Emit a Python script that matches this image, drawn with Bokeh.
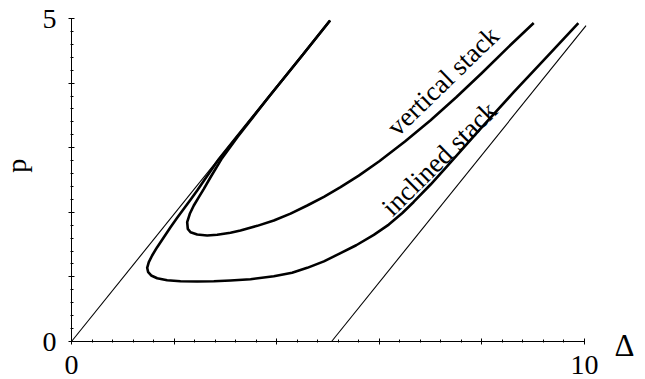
from bokeh.plotting import figure
from bokeh.models import Range1d, FixedTicker, Label
from bokeh.embed import file_html
from bokeh.resources import INLINE
import math

# ---- data ----
# thin reference lines
line1_x = [0.0, 5.04]
line1_y = [0.0, 4.97]
line2_x = [5.07, 10.03]
line2_y = [0.0, 4.89]

# "inclined stack" curve (outer)
incl_x = [5.04, 4.52, 3.86, 3.22, 2.87, 2.58, 2.45, 2.32, 2.19, 2.06, 1.93, 1.80, 1.67,
          1.572, 1.507, 1.475, 1.495, 1.553, 1.67, 1.865, 2.125, 2.45, 2.774, 3.099,
          3.489, 3.944, 4.30, 4.595, 4.92, 5.244, 5.55, 5.893, 6.185, 6.45, 6.67, 7.00,
          7.32, 7.97, 8.62, 9.27, 9.88]
incl_y = [4.97, 4.45, 3.80, 3.17, 2.82, 2.49, 2.337, 2.193, 2.054, 1.915, 1.77, 1.615,
          1.46, 1.331, 1.228, 1.141, 1.073, 1.022, 0.98, 0.949, 0.933, 0.929, 0.933,
          0.944, 0.964, 1.011, 1.065, 1.14, 1.24, 1.367, 1.49, 1.651, 1.81, 1.99, 2.16,
          2.43, 2.71, 3.29, 3.86, 4.41, 4.93]

# "vertical stack" curve (inner)
vert_x = [5.04, 4.52, 3.86, 3.24, 2.92, 2.71, 2.58, 2.482, 2.384, 2.306, 2.255, 2.267,
          2.32, 2.45, 2.645, 2.84, 3.099, 3.294, 3.62, 3.944, 4.27, 4.595, 4.92, 5.244,
          5.60, 6.00, 6.50, 7.00, 7.50, 8.00, 8.50, 9.01]
vert_y = [4.97, 4.45, 3.80, 3.17, 2.82, 2.543, 2.363, 2.234, 2.105, 1.977, 1.847, 1.744,
          1.692, 1.656, 1.641, 1.652, 1.683, 1.718, 1.79, 1.873, 1.98, 2.105, 2.24, 2.389,
          2.567, 2.791, 3.096, 3.426, 3.781, 4.156, 4.546, 4.93]

x_major = [0, 2, 4, 6, 8, 10]
x_minor = [0.4, 0.8, 1.2, 1.6, 2.4, 2.8, 3.2, 3.6, 4.4, 4.8, 5.2, 5.6, 6.4, 6.8,
           7.2, 7.6, 8.4, 8.8, 9.2, 9.6]
y_major = [0, 1, 2, 3, 4, 5]
y_minor = [0.2, 0.4, 0.6, 0.8, 1.2, 1.4, 1.6, 1.8, 2.2, 2.4, 2.6, 2.8, 3.2, 3.4,
           3.6, 3.8, 4.2, 4.4, 4.6, 4.8]
x_labels = {2: "", 4: "", 6: "", 8: "", 0: "0", 10: "10"}
y_labels = {1: "", 2: "", 3: "", 4: "", 0: "0", 5: "5"}

FONT = "Liberation Serif"

# frame fills the canvas; axes are pinned at 0 inside it
W, H = 645, 379
X0, X10 = 71.0, 584.0      # pixel columns of delta = 0 and 10
Y0, Y5 = 341.0, 18.0       # pixel rows of p = 0 and 5
sx = (X10 - X0) / 10.0
sy = (Y0 - Y5) / 5.0

p = figure(width=W, height=H, output_backend="svg", toolbar_location=None,
           x_range=Range1d(-X0 / sx, 10 + (W - X10) / sx),
           y_range=Range1d(-(H - Y0) / sy, 5 + Y5 / sy),
           min_border=0)
p.outline_line_color = None
p.grid.visible = False
p.background_fill_color = "white"
p.border_fill_color = "white"

for ax, maj, mnr, labs, bnds in ((p.xaxis[0], x_major, x_minor, x_labels, (0, 10)),
                                 (p.yaxis[0], y_major, y_minor, y_labels, (0, 5))):
    ax.fixed_location = 0
    ax.bounds = bnds
    ax.ticker = FixedTicker(ticks=maj, minor_ticks=mnr)
    ax.major_label_overrides = labs
    ax.major_label_text_font = FONT
    ax.major_label_text_font_size = "28px"
    ax.major_label_text_color = "black"
    ax.axis_line_color = "black"
    ax.axis_line_width = 1
    ax.major_tick_line_color = "black"
    ax.minor_tick_line_color = "black"
    ax.major_tick_in = 3
    ax.major_tick_out = 3
    ax.minor_tick_in = 2
    ax.minor_tick_out = 1

p.xaxis[0].major_label_standoff = 11
p.yaxis[0].major_label_standoff = 12

p.line(line1_x, line1_y, line_color="black", line_width=1.1)
p.line(line2_x, line2_y, line_color="black", line_width=1.1)
p.line(incl_x, incl_y, line_color="black", line_width=2.6, line_join="round")
p.line(vert_x, vert_y, line_color="black", line_width=2.6, line_join="round")

common = dict(text_font=FONT, text_color="black", text_align="center",
              text_baseline="middle")
p.add_layout(Label(x=7.24, y=4.03, text="vertical stack", text_font_size="27px",
                   angle=0.77, **common))
p.add_layout(Label(x=7.17, y=2.83, text="inclined stack", text_font_size="27px",
                   angle=0.78, **common))
p.add_layout(Label(x=10.78, y=-0.06, text="Δ", text_font_size="31px", **common))
p.add_layout(Label(x=-1.07, y=2.72, text="p", text_font_size="28px",
                   angle=math.pi / 2, **common))

open("out.html", "w").write(file_html(p, INLINE))
